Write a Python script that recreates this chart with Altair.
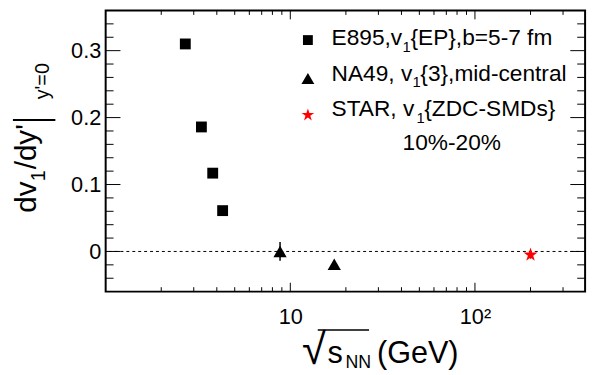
import altair as alt
import pandas as pd

# ---- data ----
e895_x = [2.7, 3.3, 3.8, 4.3]
e895_y = [0.310, 0.186, 0.117, 0.061]
na49_x = [8.8, 17.3]
na49_y = [0.0, -0.019]
na49_err = [0.014, 0.004]
star_x = [200.0]
star_y = [-0.005]
star_err = [0.006]

x_major = [10, 100]
x_minor = [2, 3, 4, 5, 6, 7, 8, 9, 20, 30, 40, 50, 60, 70, 80, 90, 200, 300]
y_major = [0.0, 0.1, 0.2, 0.3]
y_minor = [-0.04, -0.02, 0.02, 0.04, 0.06, 0.08, 0.12, 0.14, 0.16, 0.18,
           0.22, 0.24, 0.26, 0.28, 0.32, 0.34]

W, H = 486, 285
FONT = "Liberation Sans"
STAR = ("M0,-1L0.2245,-0.309L0.951,-0.309L0.3633,0.118L0.588,0.809L0,0.382"
        "L-0.588,0.809L-0.3633,0.118L-0.951,-0.309L-0.2245,-0.309Z")

xs = alt.Scale(type="log", domain=[1, 395], nice=False)
ys = alt.Scale(domain=[-0.06, 0.36], nice=False, zero=False)

xaxis = alt.Axis(values=x_major, labelExpr="datum.value == 10 ? '10' : '10²'",
                 labelPadding=15, title=None)
yaxis = alt.Axis(values=y_major, format=".1~f", labelPadding=5, title=None)

def X(f):
    return alt.X(f, scale=xs, axis=xaxis, title=None)

def Y(f):
    return alt.Y(f, scale=ys, axis=yaxis, title=None)

layers = []

# zero dashed line
layers.append(alt.Chart(pd.DataFrame({"v": [0.0]})).mark_rule(
    color="black", strokeWidth=1, strokeDash=[3, 3]).encode(y=Y("v:Q")))

# tick marks (inside the frame, all four sides)
def yticks(vals, length):
    df = pd.DataFrame({"v": vals})
    left = alt.Chart(df).mark_rule(color="black", strokeWidth=1).encode(
        y=Y("v:Q"), x=alt.value(0), x2=alt.value(length))
    right = alt.Chart(df).mark_rule(color="black", strokeWidth=1).encode(
        y=Y("v:Q"), x=alt.value(W - length), x2=alt.value(W))
    return [left, right]

def xticks(vals, length):
    df = pd.DataFrame({"v": vals})
    bottom = alt.Chart(df).mark_rule(color="black", strokeWidth=1).encode(
        x=X("v:Q"), y=alt.value(H), y2=alt.value(H - length))
    top = alt.Chart(df).mark_rule(color="black", strokeWidth=1).encode(
        x=X("v:Q"), y=alt.value(0), y2=alt.value(length))
    return [bottom, top]

layers += yticks(y_major, 15) + yticks(y_minor, 8)
layers += xticks(x_major, 9) + xticks(x_minor, 4.5)

# error bars
df_na = pd.DataFrame({"x": na49_x, "y": na49_y, "e": na49_err})
df_st = pd.DataFrame({"x": star_x, "y": star_y, "e": star_err})
for df, col in [(df_na, "black"), (df_st, "red")]:
    layers.append(alt.Chart(df).transform_calculate(
        lo="datum.y - datum.e", hi="datum.y + datum.e").mark_rule(
        color=col, strokeWidth=1.5).encode(x=X("x:Q"), y=Y("lo:Q"), y2="hi:Q"))

# data points
df_e = pd.DataFrame({"x": e895_x, "y": e895_y})
layers.append(alt.Chart(df_e).mark_point(shape="square", filled=True, size=121,
                                         color="black", opacity=1).encode(
    x=X("x:Q"), y=Y("y:Q")))
layers.append(alt.Chart(df_na).mark_point(shape="triangle-up", filled=True, size=180,
                                          color="black", opacity=1).encode(
    x=X("x:Q"), y=Y("y:Q")))
layers.append(alt.Chart(df_st).mark_point(shape=STAR, filled=True, size=220,
                                          color="red", opacity=1).encode(
    x=X("x:Q"), y=Y("y:Q")))

ONE = pd.DataFrame({"k": [0]})

def txt(s, x, y, size, angle=0, color="black"):
    return alt.Chart(ONE).mark_text(
        text=s, font=FONT, fontSize=size, align="left", baseline="alphabetic",
        angle=angle, color=color).encode(x=alt.value(x), y=alt.value(y))

def sym(shape, x, y, size, color):
    return alt.Chart(ONE).mark_point(
        shape=shape, filled=True, size=size, color=color, opacity=1).encode(
        x=alt.value(x), y=alt.value(y))

def seg(x1, x2, y1, y2, w=1.5):
    return alt.Chart(ONE).mark_rule(color="black", strokeWidth=w).encode(
        x=alt.value(x1), x2=alt.value(x2), y=alt.value(y1), y2=alt.value(y2))

# legend
layers += [
    sym("square", 205, 30, 100, "black"),
    txt("E895,v", 229, 35, 23), txt("1", 301, 42, 15), txt("{EP},b=5-7 fm", 309, 35, 23),
    sym("triangle-up", 205, 69, 170, "black"),
    txt("NA49, v", 229, 71, 23), txt("1", 311, 78, 15), txt("{3},mid-central", 319, 71, 23),
    sym(STAR, 205, 106, 180, "red"),
    txt("STAR, v", 229, 107, 23), txt("1", 315, 114, 15), txt("{ZDC-SMDs}", 323, 107, 23),
    txt("10%-20%", 301, 141, 23),
]

# y title: dv1/dy'|y'=0 (rotated)
layers += [
    txt("dv", -71, 205, 30, 270),
    txt("1", -62, 173, 20, 270),
    txt("/dy'", -71, 161, 30, 270),
    seg(-94, -51, 111, 111, 2),
    txt("y'=0", -57, 90, 20, 270),
]

# x title: sqrt(s_NN) (GeV)
layers += [
    txt("√", 199, 358, 44),
    txt("s", 225, 357, 31),
    txt("NN", 243, 362, 18),
    txt("(GeV)", 275, 357, 31),
    seg(215, 267, 324, 324, 1.5),
]

chart = alt.layer(*layers).properties(
    width=W, height=H,
    padding={"left": 99, "top": 0, "right": 7, "bottom": 82},
    autosize=alt.AutoSizeParams(type="none"),
    background="white",
).configure_view(stroke="black", strokeWidth=2).configure_axis(
    grid=False, domain=False, ticks=False, tickSize=0,
    labelFont=FONT, labelFontSize=22, labelColor="black")

chart.save("out.html", embed_options={"renderer": "svg", "actions": False})
